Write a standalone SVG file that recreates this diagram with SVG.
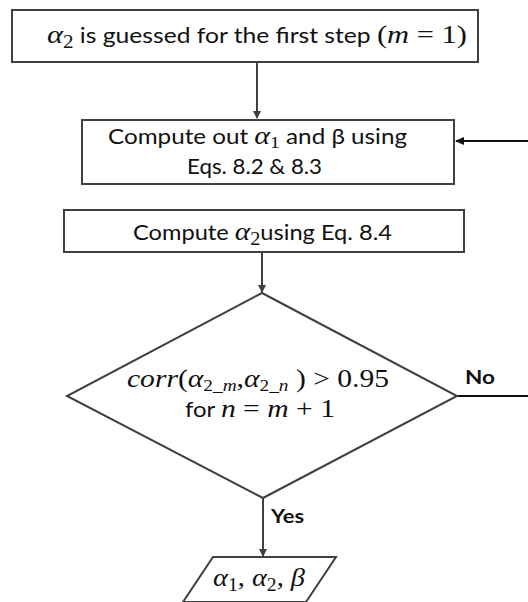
<svg xmlns="http://www.w3.org/2000/svg" width="528" height="602" viewBox="0 0 528 602">
<style>
.box{fill:#fff;stroke:#404040;stroke-width:2}
.t{font-family:Lato,"Open Sans","Liberation Sans",sans-serif;font-size:21px;fill:#111}
.m{font-family:"Liberation Serif","DejaVu Serif",serif;font-style:italic;font-size:26px}
.r{font-family:"Liberation Serif","DejaVu Serif",serif;font-style:normal;font-size:26px}
.sub{font-family:"Liberation Serif","DejaVu Serif",serif;font-size:18px}
.sub2{font-family:"Liberation Serif","DejaVu Serif",serif;font-size:17px}
.si{font-style:italic}
.b{font-family:Lato,"Open Sans","Liberation Sans",sans-serif;font-weight:bold;font-size:19px;fill:#111}
.ln{stroke:#404040;stroke-width:2;fill:none}
.lk{stroke:#111;stroke-width:2;fill:none}
</style>
<defs>
<marker id="ah" markerWidth="8" markerHeight="8" refX="7" refY="4" orient="auto" markerUnits="userSpaceOnUse">
<path d="M0,0 L8,4 L0,8 z" fill="#404040"/>
</marker>
<marker id="ahk" markerWidth="9" markerHeight="8" refX="8" refY="4" orient="auto" markerUnits="userSpaceOnUse">
<path d="M0,0 L9,4 L0,8 z" fill="#111"/>
</marker>
</defs>
<g id="connectors">
<line class="ln" x1="257" y1="62" x2="257" y2="118" marker-end="url(#ah)"/>
<line class="lk" x1="528" y1="141" x2="456" y2="141" marker-end="url(#ahk)"/>
<line class="ln" x1="262" y1="253" x2="262" y2="292" marker-end="url(#ah)"/>
<line class="lk" x1="457" y1="396" x2="528" y2="396"/>
<line class="ln" x1="263" y1="498" x2="263" y2="556" marker-end="url(#ah)"/>
<text class="b" x="465" y="384" textLength="30" lengthAdjust="spacingAndGlyphs">No</text>
<text class="b" x="271" y="523" textLength="33" lengthAdjust="spacingAndGlyphs">Yes</text>
</g>
<g id="start">
<rect class="box" x="12" y="10" width="466" height="52"/>
<text class="t" x="47" y="43" textLength="420" lengthAdjust="spacingAndGlyphs"><tspan class="m">α</tspan><tspan class="sub" dy="5">2</tspan><tspan dy="-5"> is guessed for the first step </tspan><tspan class="r">(</tspan><tspan class="m">m</tspan><tspan class="r"> = 1)</tspan></text>
</g>
<g id="compute1">
<rect class="box" x="82" y="120" width="372" height="64"/>
<text class="t" x="108" y="144" textLength="299" lengthAdjust="spacingAndGlyphs">Compute out  <tspan class="m">α</tspan><tspan class="sub2" dy="4">1</tspan><tspan dy="-4"> and β using</tspan></text>
<text class="t" x="187" y="174" textLength="135" lengthAdjust="spacingAndGlyphs">Eqs. 8.2 &amp; 8.3</text>
</g>
<g id="compute2">
<rect class="box" x="64" y="210" width="400" height="42"/>
<text class="t" x="133" y="240" textLength="259" lengthAdjust="spacingAndGlyphs">Compute <tspan class="m">α</tspan><tspan class="sub" dy="5">2</tspan><tspan dy="-5">using Eq. 8.4</tspan></text>
</g>
<g id="decision">
<polygon class="box" points="262,293 457,396 263,498 67,396"/>
<text class="t" x="127" y="387" textLength="262" lengthAdjust="spacingAndGlyphs"><tspan class="m">corr</tspan><tspan class="r">(</tspan><tspan class="m">α</tspan><tspan class="sub2" dy="4">2_<tspan class="si">m</tspan></tspan><tspan class="r" dy="-4">,</tspan><tspan class="m">α</tspan><tspan class="sub2" dy="4">2_<tspan class="si">n</tspan></tspan><tspan class="r" dy="-4"> ) &gt; 0.95</tspan></text>
<text class="t" x="185" y="417" textLength="150" lengthAdjust="spacingAndGlyphs">for <tspan class="m">n</tspan><tspan class="r"> = </tspan><tspan class="m">m</tspan><tspan class="r"> + 1</tspan></text>
</g>
<g id="output">
<polygon class="box" points="213,557 336,557 306,602 183,602"/>
<text class="t" x="213" y="586" textLength="92" lengthAdjust="spacingAndGlyphs"><tspan class="m">α</tspan><tspan class="sub" dy="5">1</tspan><tspan class="r" dy="-5">, </tspan><tspan class="m">α</tspan><tspan class="sub" dy="5">2</tspan><tspan class="r" dy="-5">, </tspan><tspan class="m">β</tspan></text>
</g>
</svg>
